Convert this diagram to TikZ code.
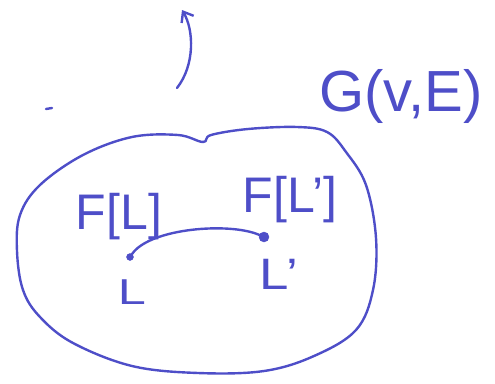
\documentclass[tikz,border=0pt]{standalone}
\usepackage{fontspec}
\setmainfont{Liberation Sans}
\usetikzlibrary{arrows.meta}
\definecolor{ink}{RGB}{78,78,200}
\begin{document}
\begin{tikzpicture}[x=1pt,y=-1pt,
  pen/.style={draw=ink,line width=2.4pt,line cap=round,line join=round},
  lbl/.style={text=ink,inner sep=0pt,font=\fontsize{#1}{#1}\selectfont},
  vdot/.style={circle,fill=ink,draw=ink,inner sep=0pt,minimum size=#1}]
\useasboundingbox (0,0) rectangle (495,383);
% outline of G
\draw[pen] plot[smooth cycle,tension=0.6] coordinates{
 (203,142) (178,135) (132,137) (83,155) (40,185) (20,215) (17,251) (23,290)
 (40,317) (73,343) (132,366) (198,373) (264,371) (314,356) (356,330)
 (373,290) (376,238) (366,185) (346,152) (327,132) (297,127) (248,129) (211,135)};
% labels
\node[lbl=58] (G) at (401,96) {G(v,E)};
\node[lbl=50] (FL) at (119,217) {F[L]};
\node[lbl=50] (FLp) at (290,200) {F[L']};
\node[lbl=36,xscale=1.4] (L) at (132,292) {L};
\node[lbl=44,xscale=1.2] (Lp) at (279,274) {L'};
% vertices
\node[vdot=7pt] (u) at (130,257) {};
\node[vdot=10pt] (w) at (264,237) {};
\draw[pen] (u) .. controls (150,228) and (230,222) .. (w);
% arrow
\coordinate (a0) at (177,88);
\coordinate (a1) at (182,10);
\draw[pen,-{Straight Barb[length=9pt,width=14pt,line width=2.4pt]}] (a0) .. controls (195,65) and (194,30) .. (a1);
% stray mark
\coordinate (m0) at (46,109);
\coordinate (m1) at (52,108);
\draw[pen] (m0) -- (m1);
\end{tikzpicture}
\end{document}
